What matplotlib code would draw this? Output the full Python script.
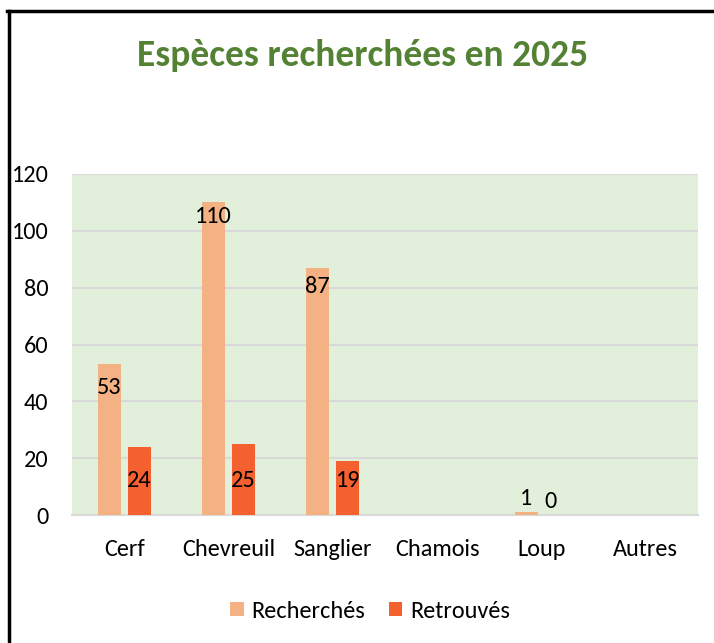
import matplotlib.pyplot as plt
import matplotlib.lines as mlines
import numpy as np

plt.rcParams['font.family'] = ['Carlito', 'Lato', 'DejaVu Sans']

categories = ['Cerf', 'Chevreuil', 'Sanglier', 'Chamois', 'Loup', 'Autres']
recherches = [53, 110, 87, None, 1, None]
retrouves = [24, 25, 19, None, 0, None]
yticks = [0, 20, 40, 60, 80, 100, 120]

c_rech = '#F4B183'
c_retr = '#F5602F'

W, H = 714, 643
fig = plt.figure(figsize=(W / 100, H / 100), dpi=100)
ax = fig.add_axes([72 / W, 1 - 515 / H, (698 - 72) / W, (515 - 174) / H])
ax.set_facecolor('#E2EFDA')

x = np.arange(len(categories))
rv = np.array([np.nan if v is None else v for v in recherches], dtype=float)
tv = np.array([np.nan if v is None else v for v in retrouves], dtype=float)
bw = 0.22
off = 0.145
ax.bar(x - off, np.nan_to_num(rv), bw, color=c_rech, label='Recherchés', zorder=3)
ax.bar(x + off, np.nan_to_num(tv), bw, color=c_retr, label='Retrouvés', zorder=3)

fs = 17.5
# label offsets below bar top (points), as placed in the original chart
rech_lbl_off = [-16.5, -10, -13.5, 0, 10, 0]
# data labels
for i in range(len(categories)):
    if not np.isnan(rv[i]):
        ax.annotate(f'{int(rv[i])}', (x[i] - off, rv[i]), xytext=(0, rech_lbl_off[i]),
                    textcoords='offset points', ha='center', va='center',
                    fontsize=fs, color='black', zorder=4)
    if not np.isnan(tv[i]):
        if tv[i] > 10:
            # inside base
            ax.annotate(f'{int(tv[i])}', (x[i] + off, 0), xytext=(0, 24.5),
                        textcoords='offset points', ha='center', va='center',
                        fontsize=fs, color='black', zorder=4)
        else:
            ax.annotate(f'{int(tv[i])}', (x[i] + off - 0.06, tv[i]), xytext=(0, 10),
                        textcoords='offset points', ha='center', va='center',
                        fontsize=fs, color='black', zorder=4)

ax.set_xlim(-0.5, len(categories) - 0.5)
ax.set_ylim(0, 120)
ax.set_yticks(yticks)
ax.set_xticks(x)
ax.set_xticklabels(categories)
ax.tick_params(axis='both', length=0, labelsize=fs, colors='black')
ax.tick_params(axis='x', pad=17)
ax.tick_params(axis='y', pad=17)
ax.yaxis.grid(True, color='#D9D9D9', linewidth=1.5, zorder=1)
ax.set_axisbelow(True)
for s in ['top', 'right', 'left']:
    ax.spines[s].set_visible(False)
ax.spines['bottom'].set_color('#D9D9D9')
ax.spines['bottom'].set_linewidth(1.5)

fig.text(363 / W, 1 - 55 / H, 'Espèces recherchées en 2025', ha='center', va='center',
         fontsize=27, fontweight='bold', color='#548235')

leg = fig.legend(loc='center', bbox_to_anchor=(370 / W, 1 - 611 / H), ncol=2,
                 frameon=False, fontsize=fs, handlelength=0.55, handleheight=0.55,
                 handletextpad=0.3, columnspacing=1.0)

# frame lines around the chart
fig.add_artist(mlines.Line2D([7 / W, 1], [1 - 11 / H, 1 - 11 / H], color='black', linewidth=2.5))
fig.add_artist(mlines.Line2D([9 / W, 9 / W], [1 - 11 / H, 0], color='black', linewidth=2.5))

fig.savefig('out.png', dpi=100)
